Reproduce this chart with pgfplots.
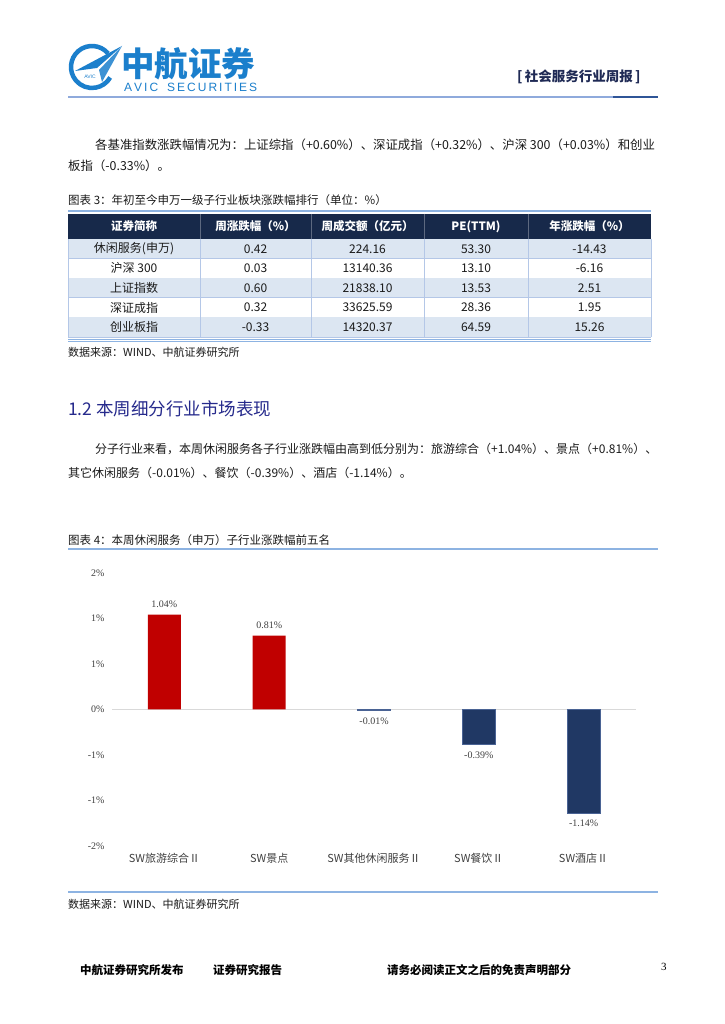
\documentclass[border=0pt]{standalone}
\usepackage{fontspec}
\setmainfont{Noto Sans CJK SC}
\newfontfamily\serifnum{Liberation Serif}
\newfontfamily\sanslat{Liberation Sans}
\usepackage{pgfplots}
\pgfplotsset{compat=1.18}
\newcommand\fs[1]{\fontsize{#1}{#1}\selectfont}
\definecolor{logoblue}{HTML}{1B7FCC}
\definecolor{headrule}{HTML}{8FAADC}
\definecolor{headdark}{HTML}{2F5597}
\definecolor{headtxt}{HTML}{1F2A55}
\definecolor{secblue}{HTML}{262A8C}
\definecolor{tblhead}{HTML}{17294A}
\definecolor{tblshade}{HTML}{DCE6F2}
\definecolor{tblline}{HTML}{B4C7E7}
\definecolor{caprule}{HTML}{8DB3E2}
\definecolor{txt}{HTML}{1A1A1A}
\definecolor{txtgray}{HTML}{404040}
\definecolor{zeroline}{HTML}{D9D9D9}
\definecolor{barred}{HTML}{C00000}
\definecolor{barnavy}{HTML}{203864}
\definecolor{barnavyedge}{HTML}{4A6394}

\begin{document}
\begin{tikzpicture}[x=1pt,y=1pt]
\fill[white] (0,0) rectangle (724,1024);
\useasboundingbox (0,0) rectangle (724,1024);

\begin{scope}[shift={(0pt,1024pt)}, y=-1pt]
% logo
\draw[logoblue, line width=4.5pt] ([shift={(40:21pt)}]92,67) arc[start angle=40, end angle=330, radius=21pt];
\fill[logoblue] (122,46) -- (75,71) -- (97,68) -- cycle;
\fill[logoblue!85] (122,46) -- (99,70) -- (102,82) -- cycle;
\node[text=logoblue, font=\sanslat\fs{5}] at (90,77) {AVIC};
\node[anchor=west, inner sep=0, text=logoblue, font=\bfseries\fs{33.5}] at (121,64) {中航证券};
\node[anchor=west, inner sep=0, text=logoblue, font=\sanslat\fs{12}] at (124,87)
  {A\,V\,I\,C\hspace{9pt}S\,E\,C\,U\,R\,I\,T\,I\,E\,S};
\node[anchor=west, inner sep=0, text=headtxt, font=\bfseries\fs{13.5}] at (517,77) {[\,社会服务行业周报\,]};
\draw[headrule, line width=2.5pt] (68,97) -- (658,97);
\draw[headdark, line width=2.5pt] (613,97) -- (658,97);

% paragraph 1
\node[anchor=west, inner sep=0, text=txt, font=\fs{12.4}] at (95,145)
  {各基准指数涨跌幅情况为：上证综指（+0.60\%）、深证成指（+0.32\%）、沪深 300（+0.03\%）和创业};
\node[anchor=west, inner sep=0, text=txt, font=\fs{12.4}] at (68,166) {板指（-0.33\%）。};

% table caption
\node[anchor=west, inner sep=0, text=txt, font=\fs{11.5}] at (68,200) {图表 3：年初至今申万一级子行业板块涨跌幅排行（单位：\%）};

% table
\draw[caprule, line width=1.5pt] (68,211) -- (651,211);
\fill[tblhead] (68,214) rectangle (651,239);
\foreach \ya/\yb/\sh in {239/258.6/1, 258.6/278.2/0, 278.2/297.8/1, 297.8/317.4/0, 317.4/337/1} {
  \ifnum\sh=1 \fill[tblshade] (68,\ya) rectangle (651,\yb); \fi
  \draw[tblline, line width=0.8pt] (68,\yb) -- (651,\yb);
}
\foreach \x in {200,311,424,528} {
  \draw[tblline, line width=1pt] (\x,239) -- (\x,337);
  \draw[tblhead!70!white, line width=0.6pt] (\x,214) -- (\x,239);
}
\draw[tblline, line width=1pt] (68,239) -- (68,337) (651,239) -- (651,337);
\draw[caprule, line width=1pt] (68,339.5) -- (651,339.5);
\draw[caprule, line width=1pt] (68,342) -- (651,342);

\foreach \x/\t in {134/证券简称, 255.5/周涨跌幅（\%）, 367.5/周成交额（亿元）, 476/PE(TTM), 589.5/年涨跌幅（\%）}
  \node[text=white, font=\bfseries\fs{11.5}] at (\x,226.5) {\t};

\foreach \y/\a/\b/\c/\d/\e in {
  248.8/休闲服务(申万)/0.42/224.16/53.30/-14.43,
  268.4/沪深 300/0.03/13140.36/13.10/-6.16,
  288/上证指数/0.60/21838.10/13.53/2.51,
  307.6/深证成指/0.32/33625.59/28.36/1.95,
  327.2/创业板指/-0.33/14320.37/64.59/15.26} {
  \node[text=txt, font=\fs{12}] at (134,\y) {\a};
  \node[text=txt, font=\fs{12}] at (255.5,\y) {\b};
  \node[text=txt, font=\fs{12}] at (367.5,\y) {\c};
  \node[text=txt, font=\fs{12}] at (476,\y) {\d};
  \node[text=txt, font=\fs{12}] at (589.5,\y) {\e};
}
\node[anchor=west, inner sep=0, text=txt, font=\fs{11}] at (68,352) {数据来源：WIND、中航证券研究所};

% section heading
\node[anchor=west, inner sep=0, text=secblue, font=\fs{17.5}] at (68,409) {1.2 本周细分行业市场表现};

% paragraph 2
\node[anchor=west, inner sep=0, text=txt, font=\fs{12}] at (95,449)
  {分子行业来看，本周休闲服务各子行业涨跌幅由高到低分别为：旅游综合（+1.04\%）、景点（+0.81\%）、};
\node[anchor=west, inner sep=0, text=txt, font=\fs{12}] at (68,473) {其它休闲服务（-0.01\%）、餐饮（-0.39\%）、酒店（-1.14\%）。};

% chart caption
\node[anchor=west, inner sep=0, text=txt, font=\fs{11.5}] at (68,540) {图表 4：本周休闲服务（申万）子行业涨跌幅前五名};
\draw[caprule, line width=2pt] (68,549) -- (658,549);

% chart source
\draw[caprule, line width=2pt] (68,892) -- (658,892);
\node[anchor=west, inner sep=0, text=txt, font=\fs{11}] at (68,904) {数据来源：WIND、中航证券研究所};

% footer
\node[anchor=west, inner sep=0, text=black, font=\bfseries\fs{11.5}] at (80,970) {中航证券研究所发布};
\node[anchor=west, inner sep=0, text=black, font=\bfseries\fs{11.5}] at (213,970) {证券研究报告};
\node[anchor=west, inner sep=0, text=black, font=\bfseries\fs{11.5}] at (387,970) {请务必阅读正文之后的免责声明部分};
\node[anchor=west, inner sep=0, text=black, font=\serifnum\fs{11}] at (661,967) {3};
\end{scope}

\begin{axis}[
  at={(112pt,178.2pt)}, anchor=south west,
  scale only axis, width=524pt, height=273pt,
  xmin=-0.5, xmax=4.5, ymin=-1.5, ymax=1.5,
  axis line style={draw=none}, tick style={draw=none},
  xtick={0,1,2,3,4},
  xticklabels={SW旅游综合Ⅱ, SW景点, SW其他休闲服务Ⅱ, SW餐饮Ⅱ, SW酒店Ⅱ},
  xticklabel style={font=\fs{11}, text=txtgray},
  ytick={-1.5,-1,-0.5,0,0.5,1,1.5},
  yticklabels={-2\%,-1\%,-1\%,0\%,1\%,1\%,2\%},
  yticklabel style={font=\serifnum\fs{10}, text=txtgray, xshift=-4pt},
  extra y ticks={0}, extra y tick labels={},
  extra y tick style={grid=major, major grid style={draw=zeroline, line width=1.5pt}},
  ybar, bar width=33pt,
  nodes near coords={\pgfmathprintnumber[fixed,fixed zerofill,precision=2,assume math mode=true]{\pgfplotspointmeta}\%},
  nodes near coords style={font=\serifnum\fs{10}, text=txtgray, inner sep=7pt},
]
\addplot[ybar, bar shift=0pt, fill=barred, draw=none] coordinates {(0,1.04) (1,0.81)};
\addplot[ybar, bar shift=0pt, fill=barnavy, draw=barnavyedge, line width=0.6pt] coordinates {(2,-0.01) (3,-0.39) (4,-1.14)};
\end{axis}
\end{tikzpicture}
\end{document}
